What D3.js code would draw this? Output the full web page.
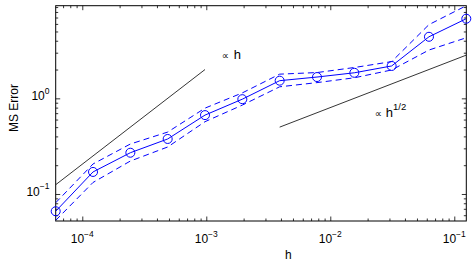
<!DOCTYPE html>
<html><head><meta charset="utf-8">
<script src="https://cdn.jsdelivr.net/npm/d3@7"></script>
<style>
body{margin:0;background:#fff}
text{font-family:"Liberation Sans",Arial,Helvetica,sans-serif;fill:#000}
</style>
</head><body>
<svg id="c" width="475" height="264"></svg>
<script>
// ---- data ----
const h = [0.00006103515625, 0.0001220703125, 0.000244140625, 0.00048828125,
           0.0009765625, 0.001953125, 0.00390625, 0.0078125,
           0.015625, 0.03125, 0.0625, 0.125];
const mse   = [0.066, 0.170, 0.270, 0.376, 0.668, 0.98, 1.53, 1.67, 1.85, 2.18, 4.4, 6.8];
const upper = [0.081, 0.206, 0.333, 0.444, 0.79, 1.14, 1.79, 1.86, 2.10, 2.42, 5.9, 9.3];
const lower = [0.053, 0.132, 0.221, 0.310, 0.57, 0.85, 1.32, 1.46, 1.64, 1.98, 3.2, 4.3];
const refLinH = [0.00006103515625, 0.0009765625];
const refLinY = [0.125, 2.0];
const refSqrtH = [0.00390625, 0.125];
const refSqrtY = [0.5, 2.83];
const xMajor = [1e-4, 1e-3, 1e-2, 1e-1];
const xMajorExp = ["\u22124", "\u22123", "\u22122", "\u22121"];
const yMajor = [1e-1, 1e0];
const yMajorExp = ["\u22121", "0"];
const xDomain = [0.00006103515625, 0.125];
const yDomain = [0.0522, 9.3];

// ---- layout ----
const L = 55.7, R = 466.3, T = 5.7, B = 221;
const svg = d3.select("#c");
const x = d3.scaleLog().domain(xDomain).range([L, R]);
const y = d3.scaleLog().domain(yDomain).range([B, T]);

const isMajor = v => Math.abs(Math.log10(v) - Math.round(Math.log10(v))) < 1e-9;
const xTicks = x.ticks().filter(v => v >= xDomain[0] && v <= xDomain[1]);
const yTicks = y.ticks().filter(v => v >= yDomain[0] && v <= yDomain[1]);
const xMin = xTicks.filter(v => !isMajor(v)), yMin = yTicks.filter(v => !isMajor(v));

function axisGroup(axisFn, scale, vals, size, tx, ty) {
  const g = svg.append("g").attr("transform", `translate(${tx},${ty})`)
    .call(axisFn(scale).tickValues(vals).tickSize(size).tickFormat(""));
  g.select(".domain").remove();
  g.selectAll(".tick line").attr("stroke", "#000").attr("stroke-width", 0.8);
  return g;
}
// bottom & top
axisGroup(d3.axisBottom, x, xMin, -2.5, 0, B);
axisGroup(d3.axisBottom, x, xMajor, -4.5, 0, B);
axisGroup(d3.axisTop, x, xMin, -2.5, 0, T);
axisGroup(d3.axisTop, x, xMajor, -4.5, 0, T);
// left & right
axisGroup(d3.axisLeft, y, yMin, -2.5, L, 0);
axisGroup(d3.axisLeft, y, yMajor, -4.5, L, 0);
axisGroup(d3.axisRight, y, yMin, -2.5, R, 0);
axisGroup(d3.axisRight, y, yMajor, -4.5, R, 0);

// frame
svg.append("rect").attr("x", L).attr("y", T).attr("width", R - L).attr("height", B - T)
  .attr("fill", "none").attr("stroke", "#000").attr("stroke-width", 1);

// tick labels
xMajor.forEach((v, i) => {
  const t = svg.append("text").attr("x", x(v)).attr("y", 243)
    .attr("text-anchor", "middle").attr("font-size", 12);
  t.append("tspan").text("10");
  t.append("tspan").attr("dy", -6.5).attr("font-size", 8.5).text(xMajorExp[i]);
});
yMajor.forEach((v, i) => {
  const t = svg.append("text").attr("x", 49.5).attr("y", y(v) + 2)
    .attr("text-anchor", "end").attr("font-size", 12);
  t.append("tspan").text("10");
  t.append("tspan").attr("dy", -6.5).attr("font-size", 8.5).text(yMajorExp[i]);
});

// axis labels
svg.append("text").attr("x", x(0.0046)).attr("y", 259).attr("text-anchor", "middle")
  .attr("font-size", 12).text("h");
svg.append("text").attr("transform", `translate(17.5,108) rotate(-90)`)
  .attr("text-anchor", "middle").attr("font-size", 12).text("MS Error");

// clip
svg.append("clipPath").attr("id", "clip").append("rect")
  .attr("x", L).attr("y", T).attr("width", R - L).attr("height", B - T);
const plot = svg.append("g").attr("clip-path", "url(#clip)");

const line = d3.line().x(d => x(d[0])).y(d => y(d[1]));

// reference lines
plot.append("path").datum(refLinH.map((v, i) => [v, refLinY[i]]))
  .attr("d", line).attr("fill", "none").attr("stroke", "#000").attr("stroke-width", 0.8);
plot.append("path").datum(refSqrtH.map((v, i) => [v, refSqrtY[i]]))
  .attr("d", line).attr("fill", "none").attr("stroke", "#000").attr("stroke-width", 0.8);

// bounds
[upper, lower].forEach(arr => {
  plot.append("path").datum(h.map((v, i) => [v, arr[i]]))
    .attr("d", line).attr("fill", "none").attr("stroke", "#0000ff")
    .attr("stroke-width", 1).attr("stroke-dasharray", "6,4");
});
// mean
plot.append("path").datum(h.map((v, i) => [v, mse[i]]))
  .attr("d", line).attr("fill", "none").attr("stroke", "#0000ff").attr("stroke-width", 1);
svg.append("g").selectAll("circle").data(h.map((v, i) => [v, mse[i]])).join("circle")
  .attr("cx", d => x(d[0])).attr("cy", d => y(d[1])).attr("r", 4.5)
  .attr("fill", "none").attr("stroke", "#0000ff").attr("stroke-width", 1);

// annotations
const a1 = svg.append("text").attr("x", x(0.00133)).attr("y", y(2.56));
a1.append("tspan").attr("font-size", 10).attr("font-family", "DejaVu Sans").text("\u221d");
a1.append("tspan").attr("font-size", 13).attr("dx", 5).text("h");
const a2 = svg.append("text").attr("x", x(0.0228)).attr("y", y(0.642));
a2.append("tspan").attr("font-size", 10).attr("font-family", "DejaVu Sans").text("\u221d");
a2.append("tspan").attr("font-size", 13).attr("dx", 4).text("h");
a2.append("tspan").attr("font-size", 9.5).attr("dy", -6.5).text("1/2");
</script>
</body></html>
